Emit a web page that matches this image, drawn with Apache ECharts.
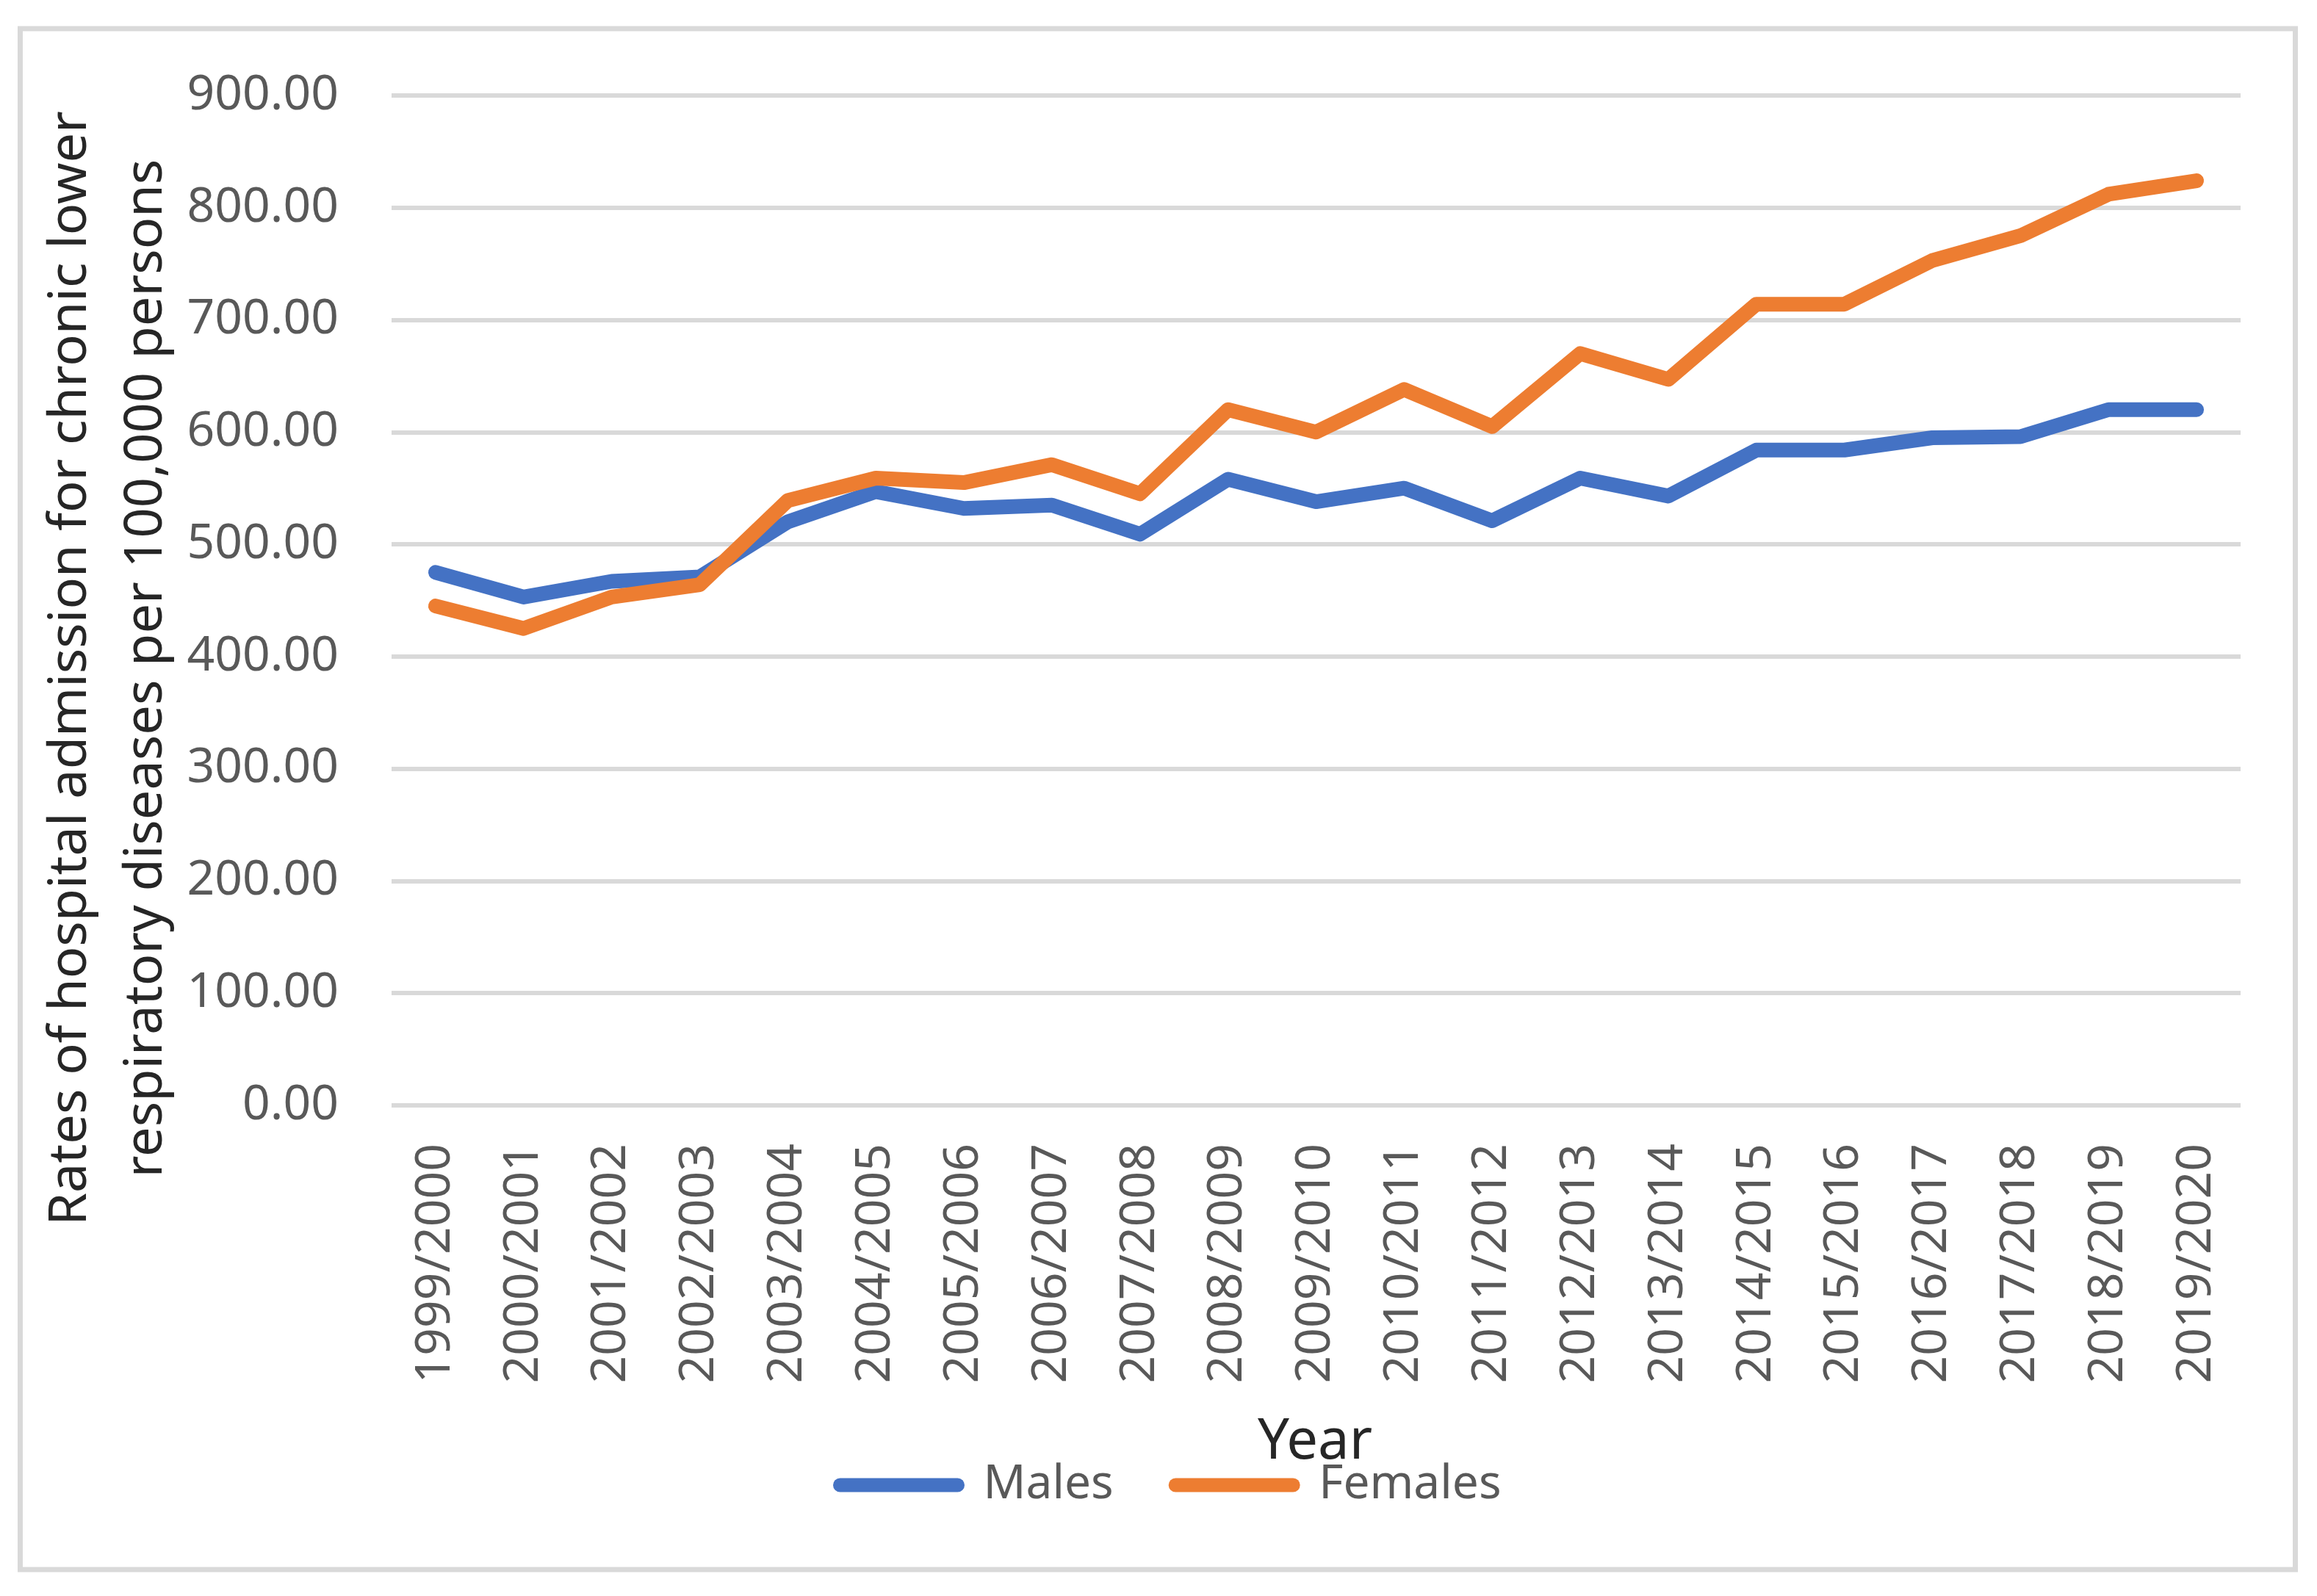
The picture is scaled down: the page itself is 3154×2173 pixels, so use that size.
<!DOCTYPE html>
<html>
<head>
<meta charset="utf-8">
<script src="https://cdn.jsdelivr.net/npm/echarts@6/dist/echarts.min.js"></script>
<style>html,body{margin:0;padding:0;background:#fff;}#c{width:3154px;height:2173px;}</style>
</head>
<body>
<div id="c"></div>
<script>
var categories = ['1999/2000','2000/2001','2001/2002','2002/2003','2003/2004','2004/2005','2005/2006','2006/2007','2007/2008','2008/2009','2009/2010','2010/2011','2011/2012','2012/2013','2013/2014','2014/2015','2015/2016','2016/2017','2017/2018','2018/2019','2019/2020'];
var males = [475, 453, 467, 471, 520, 547, 532, 535, 509, 558, 538, 550, 521, 559, 543, 584, 584, 595, 596, 620, 620];
var females = [445, 425, 453, 464, 539, 559, 555, 571, 545, 620, 600, 638, 605, 670, 647, 714, 714, 753, 775, 812, 824];
var yTicks = {min: 0, max: 900, interval: 100};
var yTitleLines = ['Rates of hospital admission for chronic lower', 'respiratory diseases per 100,000 persons'];
var xTitle = 'Year';

var FONT = '"Noto Sans", "Open Sans", sans-serif';
var chart = echarts.init(document.getElementById('c'), null, {renderer: 'canvas'});
var capsule = 'path://M10,0 L170,0 A9.5,9.5 0 0 1 170,19 L10,19 A9.5,9.5 0 0 1 10,0 Z';
chart.setOption({
  backgroundColor: '#ffffff',
  animation: false,
  grid: {left: 533, right: 104, top: 130, bottom: 668, containLabel: false},
  xAxis: {
    type: 'category',
    data: categories,
    boundaryGap: true,
    axisLine: {show: false},
    axisTick: {show: false},
    axisLabel: {rotate: 90, margin: 52, color: '#595959', fontSize: 66, fontFamily: FONT, interval: 0}
  },
  yAxis: {
    type: 'value',
    min: yTicks.min, max: yTicks.max, interval: yTicks.interval,
    axisLine: {show: false},
    axisTick: {show: false},
    splitLine: {lineStyle: {color: '#D9D9D9', width: 6}},
    axisLabel: {margin: 72, color: '#595959', fontSize: 66, fontFamily: FONT,
      formatter: function (v) { return v.toFixed(2); }}
  },
  legend: {
    left: 1129, top: 1977,
    itemWidth: 180, itemHeight: 19, itemGap: 75,
    icon: capsule,
    textStyle: {color: '#595959', fontSize: 64, fontFamily: FONT, lineHeight: 80, padding: [0, 0, 0, 20]},
    data: ['Males', 'Females']
  },
  series: [
    {name: 'Males', type: 'line', data: males, symbol: 'none', color: '#4472C4',
      lineStyle: {width: 20, color: '#4472C4', cap: 'round', join: 'round'}},
    {name: 'Females', type: 'line', data: females, symbol: 'none', color: '#ED7D31',
      lineStyle: {width: 20, color: '#ED7D31', cap: 'round', join: 'round'}}
  ],
  graphic: [
    {type: 'rect', shape: {x: 27.5, y: 39, width: 3097, height: 2098}, silent: true,
      style: {fill: 'none', stroke: '#D9D9D9', lineWidth: 7}},
    {type: 'text', x: 96, y: 910, rotation: Math.PI / 2, silent: true,
      style: {text: yTitleLines[0], fill: '#262626', font: '72px ' + FONT, textAlign: 'center', textVerticalAlign: 'middle'}},
    {type: 'text', x: 199, y: 910, rotation: Math.PI / 2, silent: true,
      style: {text: yTitleLines[1], fill: '#262626', font: '72px ' + FONT, textAlign: 'center', textVerticalAlign: 'middle'}},
    {type: 'text', x: 1790, y: 1964, silent: true,
      style: {text: xTitle, fill: '#262626', font: '76px ' + FONT, textAlign: 'center', textVerticalAlign: 'middle'}}
  ]
});
</script>
</body>
</html>
